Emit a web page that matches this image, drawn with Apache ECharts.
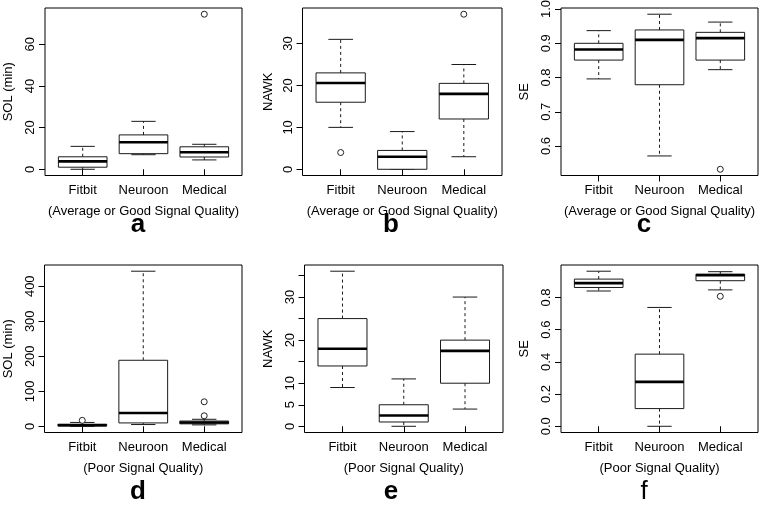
<!DOCTYPE html>
<html><head><meta charset="utf-8">
<script src="https://cdn.jsdelivr.net/npm/echarts@6/dist/echarts.min.js"></script>
<style>html,body{margin:0;padding:0;background:#fff}#c{width:760px;height:507px}</style>
</head><body><div id="c"></div>
<script>
const categories = ['Fitbit', 'Neuroon', 'Medical'];
// each row: [lowerWhisker, Q1, median, Q3, upperWhisker]; outliers: [categoryPosition, value]
const solGood = [[0, 1, 3.8, 6, 11], [7, 7.5, 13, 16.5, 23], [4.5, 5.9, 8.2, 10.8, 12]];
const solGoodOutliers = [[3, 74.4]];
const nawkGood = [[10, 16, 20.6, 23, 31], [0, 0, 3, 4.5, 9], [3, 12, 18, 20.5, 25]];
const nawkGoodOutliers = [[1, 4], [3, 37]];
const seGood = [[0.796, 0.851, 0.882, 0.900, 0.937], [0.571, 0.779, 0.910, 0.939, 0.985], [0.823, 0.851, 0.915, 0.932, 0.962]];
const seGoodOutliers = [[3, 0.532]];
const solPoor = [[0, 1, 3, 6, 11], [5, 9.6, 38, 188.6, 443], [4, 7, 11, 15, 20]];
const solPoorOutliers = [[1, 17], [3, 30], [3, 70]];
const nawkPoor = [[9, 14, 18, 25, 36], [0, 1, 2.5, 5, 11], [4, 10, 17.5, 20, 30]];
const nawkPoorOutliers = [];
const sePoor = [[0.840, 0.862, 0.889, 0.914, 0.963], [0, 0.110, 0.276, 0.448, 0.738], [0.847, 0.904, 0.938, 0.945, 0.960]];
const sePoorOutliers = [[3, 0.807]];

const tickA = [0, 20, 40, 60];
const tickB = [0, 10, 20, 30];
const tickC = [0.6, 0.7, 0.8, 0.9, 1.0];
const tickD = [0, 100, 200, 300, 400];
const tickE = [0, 5, 10, 15, 20, 25, 30, 35];
const labelE = [0, 5, 10, 20, 30];
const tickF = [0, 0.2, 0.4, 0.6, 0.8];

const yTitles = ['SOL (min)', 'NAWK', 'SE', 'SOL (min)', 'NAWK', 'SE'];
const xTitles = ['(Average or Good Signal Quality)', '(Average or Good Signal Quality)', '(Average or Good Signal Quality)',
  '(Poor Signal Quality)', '(Poor Signal Quality)', '(Poor Signal Quality)'];
const panelLetters = ['a', 'b', 'c', 'd', 'e', 'f'];

const panels = [
  {box: solGood, out: solGoodOutliers, ticks: tickA, labels: tickA, dec: 0},
  {box: nawkGood, out: nawkGoodOutliers, ticks: tickB, labels: tickB, dec: 0},
  {box: seGood, out: seGoodOutliers, ticks: tickC, labels: tickC, dec: 1},
  {box: solPoor, out: solPoorOutliers, ticks: tickD, labels: tickD, dec: 0},
  {box: nawkPoor, out: nawkPoorOutliers, ticks: tickE, labels: labelE, dec: 0},
  {box: sePoor, out: sePoorOutliers, ticks: tickF, labels: tickF, dec: 1}
];

const layout = [
  {left: 45, top: 8, width: 197, height: 167.5, nameGap: 30},
  {left: 302.5, top: 8, width: 199.5, height: 167.5, nameGap: 27.5},
  {left: 561, top: 8, width: 197, height: 167.5, nameGap: 30},
  {left: 44.5, top: 265, width: 197.5, height: 167.5, nameGap: 30},
  {left: 304.5, top: 265, width: 198.5, height: 167.5, nameGap: 30},
  {left: 561, top: 265, width: 197, height: 167.5, nameGap: 30}
];
const letterPos = [[138, 225], [391, 225], [644, 225], [138, 492], [391, 492], [644, 492]];

const FONT = 'Liberation Sans, Arial, Helvetica, sans-serif';
const INK = '#1a1a1a';

function renderBox(params, api) {
  const x = api.value(0);
  const lo = api.value(1), q1 = api.value(2), md = api.value(3), q3 = api.value(4), hi = api.value(5);
  const tl = api.coord([x - 0.4, q3]);
  const br = api.coord([x + 0.4, q1]);
  const c = api.coord([x, md]);
  const pLo = api.coord([x, lo]);
  const pHi = api.coord([x, hi]);
  const sL = api.coord([x - 0.2, lo])[0];
  const sR = api.coord([x + 0.2, lo])[0];
  const dash = {stroke: INK, lineWidth: 1, lineDash: [3, 3], fill: null};
  const solid = {stroke: INK, lineWidth: 1, fill: null};
  return {
    type: 'group',
    children: [
      {type: 'line', shape: {x1: c[0], y1: tl[1], x2: c[0], y2: pHi[1]}, style: dash},
      {type: 'line', shape: {x1: c[0], y1: br[1], x2: c[0], y2: pLo[1]}, style: dash},
      {type: 'line', shape: {x1: sL, y1: pHi[1], x2: sR, y2: pHi[1]}, style: solid},
      {type: 'line', shape: {x1: sL, y1: pLo[1], x2: sR, y2: pLo[1]}, style: solid},
      {type: 'rect', shape: {x: tl[0], y: tl[1], width: br[0] - tl[0], height: br[1] - tl[1]},
        style: {fill: '#fff', stroke: INK, lineWidth: 1}},
      {type: 'line', shape: {x1: tl[0], y1: c[1], x2: br[0], y2: c[1]}, style: {stroke: '#000', lineWidth: 2.6}}
    ]
  };
}

const grid = [], xAxis = [], yAxis = [], series = [], graphic = [];
panels.forEach((p, i) => {
  const L = layout[i];
  grid.push({left: L.left, top: L.top, width: L.width, height: L.height, show: true,
    borderColor: '#000', borderWidth: 1, backgroundColor: 'transparent',
    containLabel: false, outerBoundsMode: 'none'});
  let vals = [];
  p.box.forEach(r => { vals.push(r[0], r[4]); });
  p.out.forEach(o => vals.push(o[1]));
  const mn = Math.min(...vals), mx = Math.max(...vals);
  const ext = (mx - mn) * 0.04;
  xAxis.push({type: 'value', gridIndex: i, min: 0.38, max: 3.62,
    axisLine: {show: false}, splitLine: {show: false},
    axisTick: {show: true, length: 6, inside: false, customValues: [1, 2, 3], lineStyle: {color: '#000'}},
    axisLabel: {show: true, customValues: [1, 2, 3], formatter: v => categories[Math.round(v) - 1],
      color: '#000', fontSize: 13, fontFamily: FONT, margin: 8},
    name: xTitles[i], nameLocation: 'middle', nameGap: 29,
    nameTextStyle: {color: '#000', fontSize: 13, fontFamily: FONT}
  });
  yAxis.push({type: 'value', gridIndex: i, min: mn - ext, max: mx + ext,
    axisLine: {show: false}, splitLine: {show: false},
    axisTick: {show: true, length: 6, inside: false, customValues: p.ticks, lineStyle: {color: '#000'}},
    axisLabel: {show: true, customValues: p.labels, rotate: 90, formatter: v => Number(v).toFixed(p.dec),
      color: '#000', fontSize: 13, fontFamily: FONT, margin: 8},
    name: yTitles[i], nameLocation: 'middle', nameGap: L.nameGap,
    nameTextStyle: {color: '#000', fontSize: 13, fontFamily: FONT}
  });
  series.push({type: 'custom', xAxisIndex: i, yAxisIndex: i, renderItem: renderBox,
    encode: {x: 0, y: [1, 2, 3, 4, 5]}, clip: false, silent: true,
    data: p.box.map((r, k) => [k + 1, r[0], r[1], r[2], r[3], r[4]])});
  series.push({type: 'scatter', xAxisIndex: i, yAxisIndex: i, symbol: 'circle', symbolSize: 6,
    itemStyle: {color: '#fff', borderColor: '#222', borderWidth: 1, opacity: 1}, silent: true,
    data: p.out.map(o => [o[0], o[1]])});
  graphic.push({type: 'text', x: letterPos[i][0], y: letterPos[i][1],
    style: {text: panelLetters[i], fontSize: 26, fontWeight: i === 5 ? 'normal' : 'bold', fontFamily: FONT,
      fill: '#000', align: 'center', verticalAlign: 'middle'}});
});

const chart = echarts.init(document.getElementById('c'), null, {renderer: 'canvas'});
chart.setOption({animation: false, backgroundColor: '#fff', grid, xAxis, yAxis, series, graphic});
</script>
</body></html>
